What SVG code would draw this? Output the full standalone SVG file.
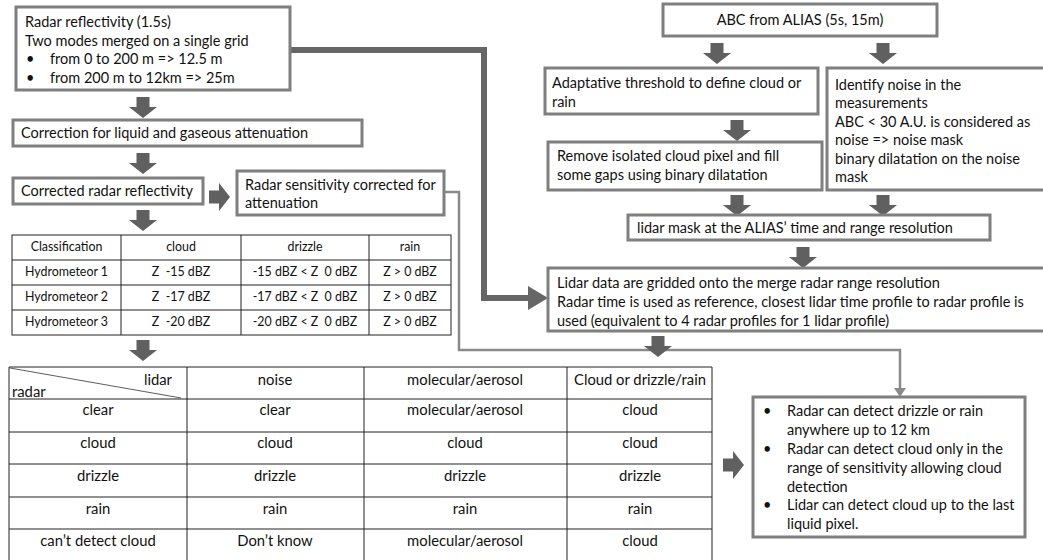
<svg xmlns="http://www.w3.org/2000/svg" width="1043" height="560" viewBox="0 0 1043 560">
<style>
.box{fill:#fff;stroke:#7f7f7f;stroke-width:3}
.t{font-family:Lato,"Liberation Sans",sans-serif;font-size:14.5px;fill:#111}
.ts{font-family:Lato,"Liberation Sans",sans-serif;font-size:12.4px;fill:#111;text-anchor:middle}
.tm{font-family:Lato,"Liberation Sans",sans-serif;font-size:14.8px;fill:#111;text-anchor:middle}
.grid{stroke:#222;stroke-width:1;fill:none}
.blk{fill:#606060}
</style>
<defs>
<path id="da" class="blk" d="M-6.5,0 h13 v10 h7.5 L0,21 L-14,10 h7.5 z"/>
</defs>
<g id="connectors">
<polyline points="290,50 484,50 484,298 530,298" fill="none" stroke="#666" stroke-width="6"/>
<polygon points="528,286 548,298 528,310" fill="#666"/>
<polyline points="444,192 459,192 459,350 900,350 900,390" fill="none" stroke="#8a8a8a" stroke-width="2.5"/>
<polygon points="894,388 906,388 900,397" fill="#8a8a8a"/>
<use href="#da" x="143" y="97"/>
<use href="#da" x="143" y="153"/>
<use href="#da" transform="translate(209,197) rotate(-90)"/>
<use href="#da" x="143" y="210"/>
<use href="#da" x="143" y="340"/>
<use href="#da" x="717" y="43"/>
<use href="#da" x="883" y="43"/>
<use href="#da" x="737" y="120"/>
<use href="#da" x="737" y="195"/>
<use href="#da" x="883" y="195"/>
<use href="#da" x="803" y="247"/>
<use href="#da" x="658" y="336"/>
<use href="#da" transform="translate(723,465) rotate(-90)"/>
</g>
<g id="radar-reflectivity">
<rect class="box" x="16" y="7" width="274" height="83"/>
<text class="t" x="25" y="27">Radar reflectivity (1.5s)</text>
<text class="t" x="25" y="46">Two modes merged on a single grid</text>
<text class="t" x="26" y="64">•</text><text class="t" x="50" y="64">from 0 to 200 m =&gt; 12.5 m</text>
<text class="t" x="26" y="83">•</text><text class="t" x="50" y="83">from 200 m to 12km =&gt; 25m</text>
</g>
<g id="correction">
<rect class="box" x="13" y="120" width="349" height="26"/>
<text class="t" x="21" y="138">Correction for liquid and gaseous attenuation</text>
</g>
<g id="corrected">
<rect class="box" x="13" y="178" width="190" height="26"/>
<text class="t" x="21" y="196">Corrected radar reflectivity</text>
</g>
<g id="sensitivity">
<rect class="box" x="237" y="171" width="207" height="44"/>
<text class="t" x="245" y="190">Radar sensitivity corrected for</text>
<text class="t" x="245" y="208">attenuation</text>
</g>
<g id="table-hydrometeor">
<rect class="grid" x="12" y="235" width="439" height="100"/>
<path class="grid" d="M121,235V335M241,235V335M369,235V335M12,260H451M12,285H451M12,310H451"/>
<text class="ts" x="66.5" y="251">Classification</text>
<text class="ts" x="181" y="251">cloud</text>
<text class="ts" x="305" y="251">drizzle</text>
<text class="ts" x="410" y="251">rain</text>
<text class="ts" x="66.5" y="276">Hydrometeor 1</text>
<text class="ts" x="181" y="276">Z&#160;&#160;-15 dBZ</text>
<text class="ts" x="305" y="276">-15 dBZ &lt; Z&#160;&#160;0 dBZ</text>
<text class="ts" x="410" y="276">Z &gt; 0 dBZ</text>
<text class="ts" x="66.5" y="301">Hydrometeor 2</text>
<text class="ts" x="181" y="301">Z&#160;&#160;-17 dBZ</text>
<text class="ts" x="305" y="301">-17 dBZ &lt; Z&#160;&#160;0 dBZ</text>
<text class="ts" x="410" y="301">Z &gt; 0 dBZ</text>
<text class="ts" x="66.5" y="326">Hydrometeor 3</text>
<text class="ts" x="181" y="326">Z&#160;&#160;-20 dBZ</text>
<text class="ts" x="305" y="326">-20 dBZ &lt; Z&#160;&#160;0 dBZ</text>
<text class="ts" x="410" y="326">Z &gt; 0 dBZ</text>
</g>
<g id="table-combined">
<path class="grid" d="M9,367H712M9,399H712M9,432H712M9,464H712M9,497H712M9,529H712M9,367V562M187,367V562M364,367V562M567,367V562M712,367V562"/>
<line x1="10" y1="368" x2="181" y2="398" stroke="#333" stroke-width="0.8"/>
<text class="tm" x="172" y="385" text-anchor="end" style="text-anchor:end">lidar</text>
<text class="tm" x="12" y="397" style="text-anchor:start">radar</text>
<text class="tm" x="275" y="385">noise</text>
<text class="tm" x="465" y="385">molecular/aerosol</text>
<text class="tm" x="640" y="385">Cloud or drizzle/rain</text>
<text class="tm" x="98" y="415">clear</text>
<text class="tm" x="275" y="415">clear</text>
<text class="tm" x="465" y="415">molecular/aerosol</text>
<text class="tm" x="640" y="415">cloud</text>
<text class="tm" x="98" y="448">cloud</text>
<text class="tm" x="275" y="448">cloud</text>
<text class="tm" x="465" y="448">cloud</text>
<text class="tm" x="640" y="448">cloud</text>
<text class="tm" x="98" y="481">drizzle</text>
<text class="tm" x="275" y="481">drizzle</text>
<text class="tm" x="465" y="481">drizzle</text>
<text class="tm" x="640" y="481">drizzle</text>
<text class="tm" x="98" y="514">rain</text>
<text class="tm" x="275" y="514">rain</text>
<text class="tm" x="465" y="514">rain</text>
<text class="tm" x="640" y="514">rain</text>
<text class="tm" x="98" y="546">can’t detect cloud</text>
<text class="tm" x="275" y="546">Don’t know</text>
<text class="tm" x="465" y="546">molecular/aerosol</text>
<text class="tm" x="640" y="546">cloud</text>
</g>
<g id="abc">
<rect class="box" x="663" y="4" width="274" height="32"/>
<text class="t" x="800" y="25" text-anchor="middle">ABC from ALIAS (5s, 15m)</text>
</g>
<g id="adaptative">
<rect class="box" x="545" y="68" width="273" height="46"/>
<text class="t" x="552" y="88">Adaptative threshold to define cloud or</text>
<text class="t" x="552" y="107">rain</text>
</g>
<g id="noise">
<rect class="box" x="827" y="68" width="220" height="122"/>
<text class="t" x="835" y="90">Identify noise in the</text>
<text class="t" x="835" y="108">measurements</text>
<text class="t" x="835" y="127">ABC &lt; 30 A.U. is considered as</text>
<text class="t" x="835" y="145">noise =&gt; noise mask</text>
<text class="t" x="835" y="164">binary dilatation on the noise</text>
<text class="t" x="835" y="182">mask</text>
</g>
<g id="remove">
<rect class="box" x="548" y="142" width="274" height="48"/>
<text class="t" x="557" y="161">Remove isolated cloud pixel and fill</text>
<text class="t" x="557" y="180">some gaps using binary dilatation</text>
</g>
<g id="lidar-mask">
<rect class="box" x="628" y="215" width="362" height="25"/>
<text class="t" x="637" y="233">lidar mask at the ALIAS’ time and range resolution</text>
</g>
<g id="lidar-data">
<rect class="box" x="548" y="268" width="500" height="63"/>
<text class="t" x="557" y="288">Lidar data are gridded onto the merge radar range resolution</text>
<text class="t" x="557" y="307">Radar time is used as reference, closest lidar time profile to radar profile is</text>
<text class="t" x="557" y="326">used (equivalent to 4 radar profiles for 1 lidar profile)</text>
</g>
<g id="notes">
<rect class="box" x="753" y="397" width="272" height="140"/>
<text class="t" x="763" y="416">•</text><text class="t" x="787" y="416">Radar can detect drizzle or rain</text>
<text class="t" x="787" y="435">anywhere up to 12 km</text>
<text class="t" x="763" y="454">•</text><text class="t" x="787" y="454">Radar can detect cloud only in the</text>
<text class="t" x="787" y="473">range of sensitivity allowing cloud</text>
<text class="t" x="787" y="492">detection</text>
<text class="t" x="763" y="510">•</text><text class="t" x="787" y="510">Lidar can detect cloud up to the last</text>
<text class="t" x="787" y="529">liquid pixel.</text>
</g>
</svg>
